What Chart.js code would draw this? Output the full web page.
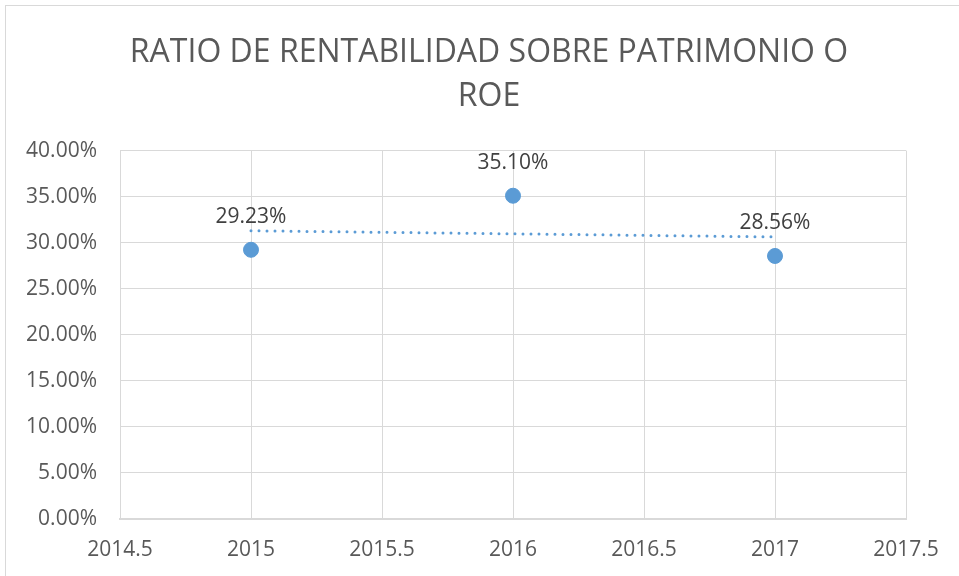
<!DOCTYPE html>
<html>
<head>
<meta charset="utf-8">
<script src="https://cdn.jsdelivr.net/npm/chart.js@4/dist/chart.umd.min.js"></script>
<style>
  html, body { margin: 0; padding: 0; background: #fff; }
  #wrap { width: 959px; height: 576px; }
</style>
</head>
<body>
<div id="wrap"><canvas id="roeChart" width="959" height="576"></canvas></div>
<script>
// datos
let years = [2015, 2016, 2017];
let roe = [29.23, 35.10, 28.56];
let roeLabels = ["29.23%", "35.10%", "28.56%"];
// linea de tendencia (lineal), extremos
let trendYears = [2015, 2017];
let trendValues = [31.3, 30.63];
let titleLines = ["RATIO DE RENTABILIDAD SOBRE PATRIMONIO O", "ROE"];

let blue = "#5B9BD5";
let gridColor = "#d9d9d9";
let textColor = "#595959";
let fontName = "'Open Sans', 'Noto Sans', sans-serif";

// fondo blanco y marco del area del grafico
const framePlugin = {
    id: "frame",
    afterLayout(chart) {
        // el titulo en Excel va un poco a la derecha del centro
        if (chart.titleBlock) chart.titleBlock.left = 72;
    },
    beforeDraw(chart) {
        let c = chart.ctx;
        c.save();
        c.fillStyle = "#fff";
        c.fillRect(0, 0, chart.width, chart.height);
        c.strokeStyle = gridColor;
        c.lineWidth = 1;
        c.strokeRect(5.5, 5.5, chart.width + 20, chart.height + 20);
        c.restore();
    }
};

// etiquetas de datos encima de cada punto
const labelPlugin = {
    id: "pointLabels",
    afterDatasetsDraw(chart) {
        let meta = chart.getDatasetMeta(1);
        let c = chart.ctx;
        c.save();
        c.font = "21px " + fontName;
        c.fillStyle = "#404040";
        c.textAlign = "center";
        c.textBaseline = "middle";
        for (let i = 0; i < meta.data.length; i++) {
            let p = meta.data[i];
            c.fillText(roeLabels[i], p.x, p.y - 33);
        }
        c.restore();
    }
};

let pts = [];
for (let i = 0; i < years.length; i++) {
    pts.push({ x: years[i], y: roe[i] });
}
let trendPts = [];
for (let i = 0; i < trendYears.length; i++) {
    trendPts.push({ x: trendYears[i], y: trendValues[i] });
}

let ctx = document.getElementById("roeChart").getContext("2d");
let roeChart = new Chart(ctx, {
    type: "scatter",
    data: {
        datasets: [
            {
                label: "Lineal",
                data: trendPts,
                showLine: true,
                borderColor: blue,
                borderWidth: 3,
                borderDash: [0, 8],
                borderCapStyle: "round",
                pointRadius: 0,
                fill: false
            },
            {
                label: "ROE",
                data: pts,
                backgroundColor: blue,
                borderColor: blue,
                pointRadius: 7.5,
                pointHoverRadius: 7.5
            }
        ]
    },
    options: {
        responsive: false,
        animation: false,
        layout: { padding: { left: 0, right: 53, top: 0, bottom: 0 } },
        plugins: {
            legend: { display: false },
            tooltip: { enabled: false },
            title: {
                display: true,
                text: titleLines,
                color: textColor,
                font: { family: fontName, size: 32, weight: "normal", lineHeight: 1.4 },
                padding: { top: 30, bottom: 31 }
            }
        },
        scales: {
            x: {
                type: "linear",
                min: 2014.5,
                max: 2017.5,
                grid: { color: gridColor, drawTicks: false },
                border: { color: gridColor, width: 2 },
                ticks: {
                    stepSize: 0.5,
                    color: textColor,
                    padding: 18,
                    font: { family: fontName, size: 21 },
                    callback: function (v) { return String(v); }
                },
                afterFit: function (s) { s.height = 57; }
            },
            y: {
                min: 0,
                max: 40,
                grid: { color: gridColor, drawTicks: false },
                border: { color: gridColor },
                ticks: {
                    stepSize: 5,
                    color: textColor,
                    padding: 23,
                    font: { family: fontName, size: 21 },
                    callback: function (v) { return v.toFixed(2) + "%"; }
                },
                afterFit: function (s) { s.width = 120; }
            }
        }
    },
    plugins: [framePlugin, labelPlugin]
});
</script>
</body>
</html>
